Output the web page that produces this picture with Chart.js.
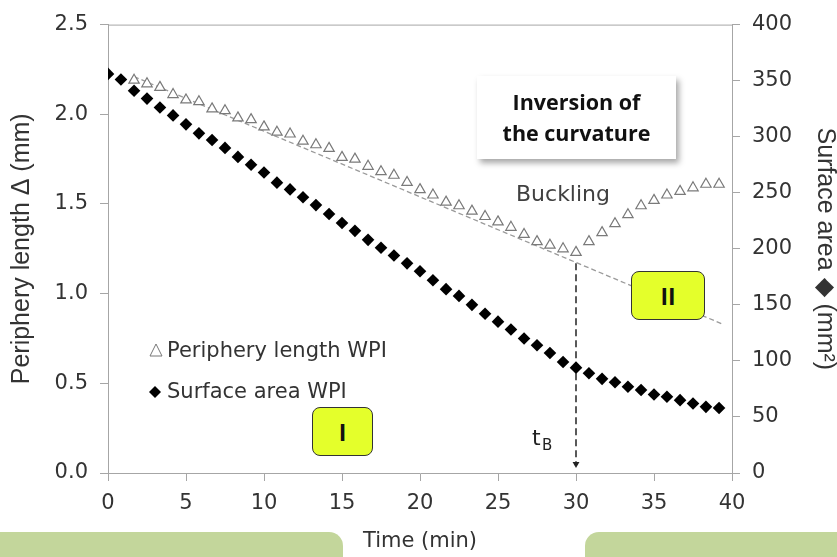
<!DOCTYPE html>
<html>
<head>
<meta charset="utf-8">
<script src="https://cdn.jsdelivr.net/npm/chart.js@4.4.1/dist/chart.umd.min.js"></script>
<style>
    body { margin: 0; background: #ffffff; }
    #wrap { position: relative; width: 837px; height: 557px; overflow: hidden; }
    #myChart { position: absolute; left: 0; top: 0; }
    .note { position: absolute; font-family: "Open Sans", sans-serif; font-weight: bold; color: #111; }
    .inversion { left: 477px; top: 76px; width: 199px; height: 83px; background: #fff;
        box-shadow: 3px 4px 6px rgba(0,0,0,0.35); text-align: center; font-size: 21.5px;
        line-height: 31px; padding-top: 10px; box-sizing: border-box; }
    .phase { background: #e4ff2b; border: 1px solid #333; border-radius: 8px; box-sizing: border-box;
        display: flex; align-items: center; justify-content: center; font-size: 23px; }
    .green { position: absolute; top: 532px; height: 40px; background: #c3d69b; }
</style>
</head>
<body>
<div id="wrap">
    <canvas id="myChart" width="837" height="557"></canvas>
    <div class="note inversion">Inversion of<br>the curvature</div>
    <div class="note phase" style="left:631px; top:271px; width:74px; height:49px;">II</div>
    <div class="note phase" style="left:312px; top:407px; width:61px; height:49px;">I</div>
    <div class="green" style="left:0; width:343px; border-top-right-radius:14px;"></div>
    <div class="green" style="left:585px; width:260px; border-top-left-radius:14px;"></div>
</div>
<script>
// time in minutes (one image every 50 s)
var time_min = [0, 0.83, 1.67, 2.5, 3.33, 4.17, 5, 5.83, 6.67, 7.5, 8.33, 9.17,
    10, 10.83, 11.67, 12.5, 13.33, 14.17, 15, 15.83, 16.67, 17.5, 18.33, 19.17,
    20, 20.83, 21.67, 22.5, 23.33, 24.17, 25, 25.83, 26.67, 27.5, 28.33, 29.17,
    30, 30.83, 31.67, 32.5, 33.33, 34.17, 35, 35.83, 36.67, 37.5, 38.33, 39.17];

// periphery length (mm), left axis
var periphery = [null, null, 2.19, 2.17, 2.15, 2.11, 2.08, 2.07, 2.03, 2.02, 1.98, 1.97,
    1.93, 1.90, 1.89, 1.85, 1.83, 1.81, 1.76, 1.75, 1.71, 1.68, 1.66, 1.62,
    1.58, 1.55, 1.51, 1.49, 1.46, 1.43, 1.40, 1.37, 1.33, 1.29, 1.27, 1.25,
    1.23, 1.29, 1.34, 1.39, 1.44, 1.49, 1.52, 1.55, 1.57, 1.59, 1.61, 1.61];

// surface area (mm2), right axis
var surface = [356, 351, 341, 334, 326, 319, 311, 303, 297, 290, 282, 275,
    268, 259, 253, 246, 239, 231, 223, 216, 208, 201, 194, 187,
    180, 172, 164, 158, 150, 142, 135, 128, 120, 114, 107, 99,
    94, 89, 84, 81, 77, 74, 70, 68, 65, 62, 59, 58];

// linear trend of the periphery before buckling
var trend_x = [1.67, 39.4];
var trend_y = [2.21, 0.83];

// buckling time arrow
var buckling_x = [30, 30];
var buckling_y = [1.17, 0.05];

var x_ticks = [0, 5, 10, 15, 20, 25, 30, 35, 40];
var left_ticks = [0, 0.5, 1, 1.5, 2, 2.5];
var right_ticks = [0, 50, 100, 150, 200, 250, 300, 350, 400];

var tick_font = { family: 'DejaVu Sans', size: 21 };
var axis_grey = '#a6a6a6';
var text_grey = '#333333';

function to_points(xs, ys) {
    var out = [];
    for (var i = 0; i < xs.length; i++) {
        if (ys[i] !== null) out.push({ x: xs[i], y: ys[i] });
    }
    return out;
}

var extras = {
    id: 'extras',
    afterDraw: function (chart) {
        var ctx = chart.ctx;
        var area = chart.chartArea;
        ctx.save();
        // top frame line
        ctx.strokeStyle = axis_grey;
        ctx.lineWidth = 1;
        ctx.beginPath();
        ctx.moveTo(area.left, area.top + 0.5);
        ctx.lineTo(area.right, area.top + 0.5);
        ctx.stroke();

        // legend markers
        ctx.strokeStyle = '#777';
        ctx.fillStyle = '#fff';
        ctx.beginPath();
        ctx.moveTo(156, 344); ctx.lineTo(162, 356); ctx.lineTo(150, 356); ctx.closePath();
        ctx.fill(); ctx.stroke();
        ctx.fillStyle = '#000';
        ctx.beginPath();
        ctx.moveTo(155, 386); ctx.lineTo(161, 392); ctx.lineTo(155, 398); ctx.lineTo(149, 392); ctx.closePath();
        ctx.fill();

        ctx.fillStyle = text_grey;
        ctx.font = '21px "DejaVu Sans"';
        ctx.textBaseline = 'alphabetic';
        ctx.fillText('Periphery length WPI', 167, 357);
        ctx.fillText('Surface area WPI', 167, 398);

        ctx.fillStyle = '#404040';
        ctx.font = '22px "DejaVu Sans"';
        ctx.fillText('Buckling', 516, 201);

        ctx.fillStyle = '#222';
        ctx.font = '22px "DejaVu Sans"';
        ctx.fillText('t', 532, 445);
        ctx.font = '15px "DejaVu Sans"';
        ctx.fillText('B', 542, 450);
        ctx.restore();
    }
};

function drawing_chart() {
    var ctx = document.getElementById('myChart').getContext('2d');
    var myChart = new Chart(ctx, {
        type: 'scatter',
        data: {
            datasets: [
                {
                    label: 'Periphery length WPI',
                    data: to_points(time_min, periphery),
                    yAxisID: 'y',
                    pointStyle: 'triangle',
                    pointRadius: 6,
                    borderWidth: 1.2,
                    borderColor: '#7a7a7a',
                    backgroundColor: '#ffffff',
                    showLine: false
                },
                {
                    label: 'Surface area WPI',
                    data: to_points(time_min, surface),
                    yAxisID: 'y2',
                    pointStyle: 'rectRot',
                    pointRadius: 6.3,
                    borderWidth: 0,
                    borderColor: '#000',
                    backgroundColor: '#000',
                    showLine: false
                },
                {
                    label: 'trend',
                    data: to_points(trend_x, trend_y),
                    yAxisID: 'y',
                    showLine: true,
                    borderColor: '#9a9a9a',
                    borderWidth: 1.3,
                    borderDash: [5, 3],
                    pointRadius: 0
                },
                {
                    label: 'tB',
                    data: to_points(buckling_x, buckling_y),
                    yAxisID: 'y',
                    showLine: true,
                    borderColor: '#222',
                    backgroundColor: '#222',
                    borderWidth: 1.5,
                    borderDash: [7, 4],
                    pointStyle: 'triangle',
                    pointRotation: 180,
                    pointRadius: [0, 4],
                    pointBorderWidth: 0
                }
            ]
        },
        options: {
            responsive: false,
            animation: false,
            layout: { padding: { top: 19, left: 0, right: 0, bottom: 0 } },
            plugins: {
                legend: { display: false },
                tooltip: { enabled: false }
            },
            scales: {
                x: {
                    type: 'linear',
                    min: 0, max: 40,
                    afterFit: function (s) { s.height = 84; },
                    afterBuildTicks: function (s) { s.ticks = x_ticks.map(function (v) { return { value: v }; }); },
                    grid: { drawOnChartArea: false, color: axis_grey, tickLength: 8 },
                    border: { color: axis_grey },
                    ticks: { font: tick_font, color: text_grey, padding: 10, maxRotation: 0 },
                    title: { display: true, text: 'Time (min)', color: text_grey,
                        font: { family: 'DejaVu Sans', size: 21, lineHeight: 1.2 }, padding: { top: 0, bottom: 3 } }
                },
                y: {
                    position: 'left',
                    min: 0, max: 2.5,
                    afterFit: function (s) { s.width = 108; },
                    afterBuildTicks: function (s) { s.ticks = left_ticks.map(function (v) { return { value: v }; }); },
                    grid: { drawOnChartArea: false, color: axis_grey, tickLength: 8 },
                    border: { color: axis_grey },
                    ticks: { font: tick_font, color: text_grey, padding: 12,
                        callback: function (v) { return Number(v).toFixed(1); } },
                    title: { display: true, text: 'Periphery length \u0394 (mm)', color: text_grey,
                        font: { family: 'Liberation Sans', size: 25, lineHeight: 1 }, padding: { top: 10, bottom: 0 } }
                },
                y2: {
                    position: 'right',
                    min: 0, max: 400,
                    afterFit: function (s) { s.width = 105; },
                    afterBuildTicks: function (s) { s.ticks = right_ticks.map(function (v) { return { value: v }; }); },
                    grid: { drawOnChartArea: false, color: axis_grey, tickLength: 8 },
                    border: { color: axis_grey },
                    ticks: { font: tick_font, color: text_grey, padding: 12 },
                    title: { display: true, text: 'Surface area \u25C6 (mm\u00B2)', color: text_grey,
                        font: { family: 'Liberation Sans', size: 25, lineHeight: 1 }, padding: { top: 0, bottom: 0 } }
                }
            }
        },
        plugins: [extras]
    });
    return myChart;
}

drawing_chart();
</script>
</body>
</html>
